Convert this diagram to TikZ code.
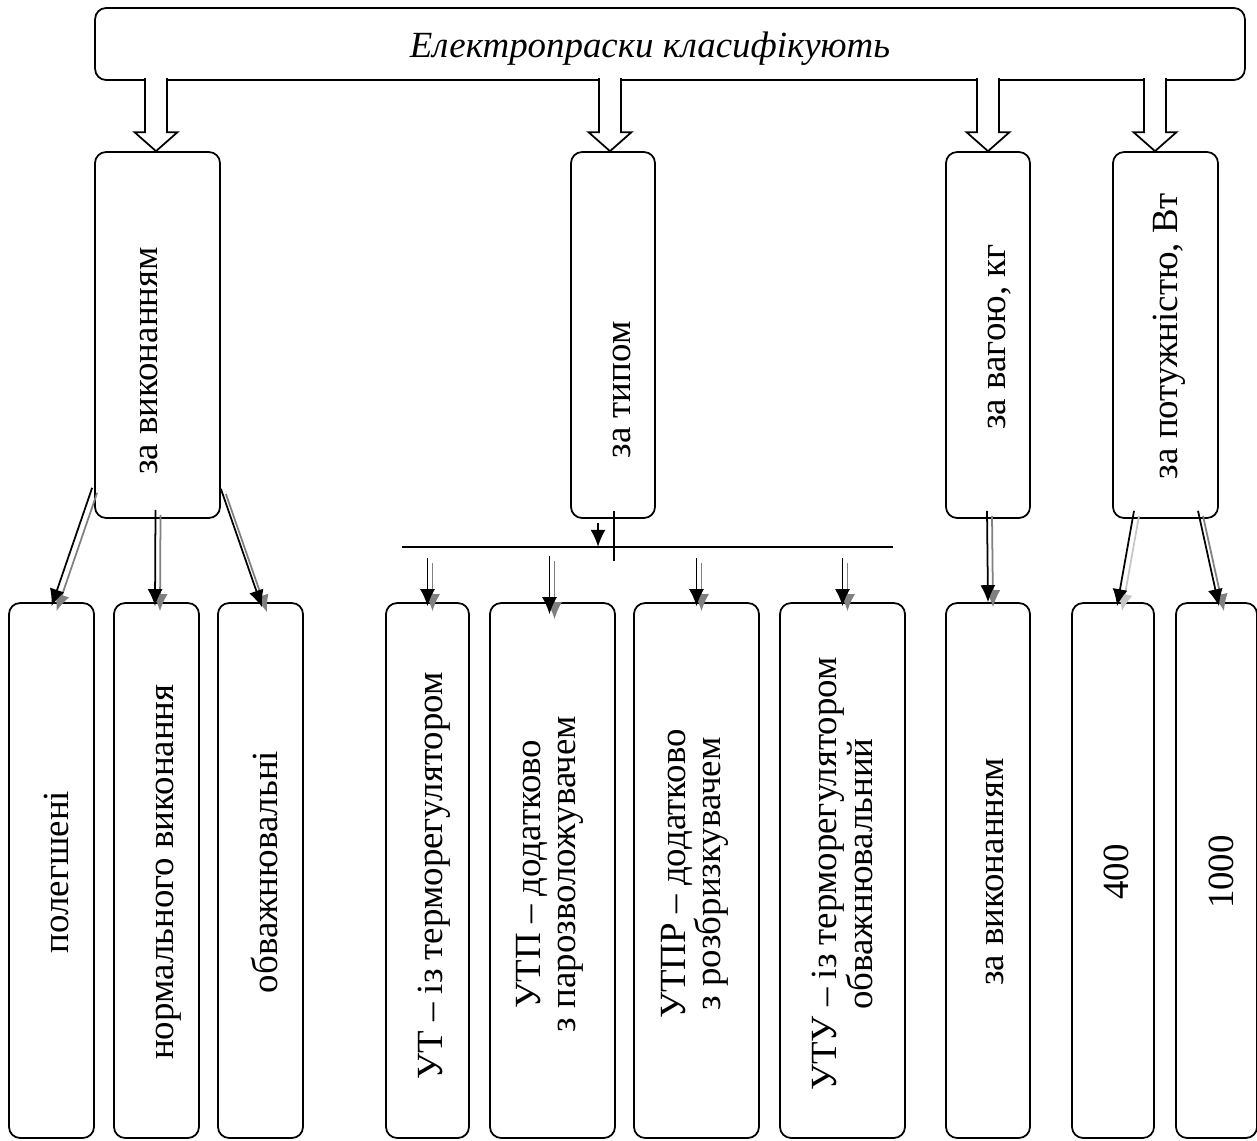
\documentclass[tikz,border=0pt]{standalone}
\usepackage{fontspec}
\setmainfont{Liberation Serif}
\usetikzlibrary{arrows.meta}

\tikzset{
  box/.style={draw, line width=1pt, rounded corners=0.22cm, inner sep=0},
  lbl/.style={rotate=90, anchor=base, inner sep=0, font=\fontsize{21}{20}\selectfont},
  lbltwo/.style={rotate=90, inner sep=0, align=center, font=\fontsize{21}{20}\selectfont},
  conn/.style={line width=1pt, -{Latex[length=0.34cm,width=0.3cm]}},
  blockarr/.pic={\draw[line width=1pt, fill=white] (-11,-73) -- (-11,-19) -- (-21.5,-19) -- (0,0) -- (21.5,-19) -- (11,-19) -- (11,-73);}
}

% arrow with a grey shadow
\newcommand\sarrow[3][gray]{%
  \draw[conn,#1,transform canvas={shift={(0.1cm,-0.1cm)}}] #2 -- #3;
  \draw[conn] #2 -- #3;}

\begin{document}
\begin{tikzpicture}[x=0.02cm, y=-0.02cm]
\useasboundingbox (0,0) rectangle (1257,1140);

% top
\node[box, minimum width=23cm, minimum height=1.44cm] (klas) at (670,44) {};
\node[anchor=base, inner sep=0, font=\fontsize{21}{20}\selectfont\itshape] (klastxt) at (650,57) {Електропраски класифікують};

% second row
\node[box, minimum width=2.5cm, minimum height=7.32cm] (za) at (157.5,335) {};
\node[box, minimum width=1.68cm, minimum height=7.32cm] (typ) at (613,335) {};
\node[box, minimum width=1.68cm, minimum height=7.32cm] (vaha) at (988,335) {};
\node[box, minimum width=2.1cm, minimum height=7.32cm] (potuzh) at (1165.5,335) {};

\node[lbl] (t-za) at (157,361) {за виконанням};
\node[lbl] (t-typ) at (630,390) {за типом};
\node[lbl] (t-vaha) at (1005,337) {за вагою, кг};
\node[lbl] (t-potuzh) at (1177,336) {за потужністю, Вт};

\foreach \n/\s in {za/-1.5, typ/-3, vaha/0, potuzh/-10.5}
  {\pic at ([shift={(\s,0)}]\n.north) {blockarr};}

% third row
\foreach \n/\x/\w in {leg/51.5/1.7, norm/156.5/1.7, obv/260.5/1.7, ut/427.5/1.66,
    utp/552.5/2.5, utpr/696.5/2.5, utu/842.5/2.5, vyk/988/1.68, p400/1113/1.64, p1000/1216.5/1.62}
  {\node[box, minimum width=\w cm, minimum height=10.7cm] (\n) at (\x,870.5) {};}

\node[lbl] (t-leg) at (68,872) {полегшені};
\node[lbl] (t-norm) at (173,872) {нормального виконання};
\node[lbl] (t-obv) at (277,872) {обважнювальні};
\node[lbl] (t-ut) at (442,876) {УТ – із терморегулятором};
\node[lbltwo] (t-utp) at (550,874) {УТП – додатково\\з парозволожувачем};
\node[lbltwo] (t-utpr) at (695,874) {УТПР – додатково\\з розбризкувачем};
\node[lbltwo] (t-utu) at (842.5,874) {УТУ – із терморегулятором\\обважнювальний};
\node[lbl] (t-vyk) at (1003,872) {за виконанням};
\node[lbl] (t-p400) at (1128,872) {400};
\node[lbl] (t-p1000) at (1233,872) {1000};

% arrows
\sarrow{([shift={(-2,-31)}]za.south west)}{([shift={(0,4)}]leg.north)}
\sarrow{([shift={(-2,-9)}]za.south)}{([shift={(-1.5,4)}]norm.north)}
\sarrow{([shift={(0,-30)}]za.south east)}{([shift={(1.5,5)}]obv.north)}

\coordinate (barL) at (402,547);
\coordinate (barR) at (893,547);
\draw[line width=0.9pt] (barL) -- (barR);
\draw[line width=0.9pt] ([shift={(1,-8)}]typ.south) -- ([shift={(1,42)}]typ.south);
\draw[conn] ([shift={(-15,4)}]typ.south) -- ([shift={(-15,28)}]typ.south);

\foreach \n in {ut, utpr, utu}
  {\sarrow{([shift={(0,-44)}]\n.north)}{([shift={(0,4)}]\n.north)}}
\sarrow{([shift={(-3,-46)}]utp.north)}{([shift={(-3,12)}]utp.north)}

\sarrow{([shift={(-1,-8)}]vaha.south)}{(vyk.north)}
\sarrow[gray!45]{([shift={(-31.5,-8)}]potuzh.south)}{([shift={(4,4)}]p400.north)}
\sarrow{([shift={(32.5,-8)}]potuzh.south)}{([shift={(2.5,4)}]p1000.north)}
\end{tikzpicture}
\end{document}
